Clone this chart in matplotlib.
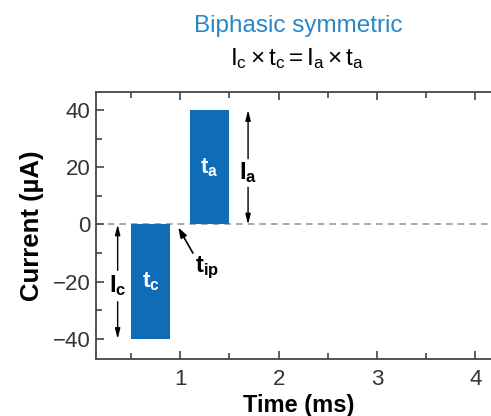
import numpy as np
import matplotlib
matplotlib.use("Agg")
import matplotlib.pyplot as plt
from matplotlib.ticker import MultipleLocator

plt.rcParams['font.family'] = ['Liberation Sans', 'DejaVu Sans']
plt.rcParams['mathtext.fontset'] = 'custom'
plt.rcParams['mathtext.rm'] = 'Liberation Sans'
plt.rcParams['mathtext.bf'] = 'Liberation Sans:bold'
plt.rcParams['mathtext.it'] = 'Liberation Sans'

# pulse phases (cathodic, anodic)
phase_start = [0.5, 1.1]      # ms
phase_width = [0.4, 0.4]      # ms
phase_amp = [-40, 40]         # uA
phase_label = [r'$\mathbf{t_c}$', r'$\mathbf{t_a}$']
x_ticks = [1, 2, 3, 4]
y_ticks = [-40, -20, 0, 20, 40]

BLUE = '#0f6cb6'
AX = '#444444'

fig = plt.figure(figsize=(4.91, 4.16), dpi=100)
ax = fig.add_axes([96/491, 57/416, 406/491, 267/416])

ax.bar(phase_start, phase_amp, width=phase_width, align='edge', color=BLUE, zorder=2)
ax.axhline(0, color='#9a9a9a', lw=1.2, ls=(0, (4, 3)), zorder=1)

for s, w, a, lab in zip(phase_start, phase_width, phase_amp, phase_label):
    ax.text(s + w/2, a/2, lab, color='white', fontsize=16, ha='center', va='center', zorder=3)

# amplitude arrows
arr = dict(arrowstyle='-|>,head_length=0.6,head_width=0.15', color='black', lw=1, shrinkA=0, shrinkB=0)
ax.annotate('', xy=(0.365, 0), xytext=(0.365, -16), arrowprops=arr)
ax.annotate('', xy=(0.365, -40), xytext=(0.365, -27), arrowprops=arr)
ax.text(0.365, -21.5, r'$\mathbf{I_c}$', fontsize=17, ha='center', va='center')
ax.annotate('', xy=(1.69, 40), xytext=(1.69, 23), arrowprops=arr)
ax.annotate('', xy=(1.69, 0), xytext=(1.69, 13), arrowprops=arr)
ax.text(1.69, 18, r'$\mathbf{I_a}$', fontsize=17, ha='center', va='center')

# interphase gap
ax.annotate('', xy=(0.98, -1), xytext=(1.13, -10),
            arrowprops=dict(arrowstyle='-|>,head_length=0.6,head_width=0.2', color='black', lw=1.2,
                            shrinkA=0, shrinkB=0))
ax.text(1.27, -15, r'$\mathbf{t_{ip}}$', fontsize=17, ha='center', va='center')

ax.set_xlim(0.145, 4.27)
ax.set_ylim(-47, 46.3)
ax.set_xticks(x_ticks)
ax.set_yticks(y_ticks)
ax.set_yticklabels([str(v).replace('-', '\u2212') for v in y_ticks])
ax.xaxis.set_minor_locator(MultipleLocator(0.5))
ax.yaxis.set_minor_locator(MultipleLocator(10))
ax.tick_params(which='both', direction='in', top=True, right=True, color=AX, width=1.2,
               labelsize=16, labelcolor='#333333')
ax.tick_params(axis='x', pad=7)
ax.tick_params(axis='y', pad=4)
ax.tick_params(which='major', length=6)
ax.tick_params(which='minor', length=4)
for sp in ax.spines.values():
    sp.set_color(AX)
    sp.set_linewidth(1.3)

ax.set_xlabel('Time (ms)', fontsize=17, fontweight='bold', labelpad=3)
ax.set_ylabel('Current (\u00b5A)', fontsize=18.5, fontweight='bold', labelpad=6)

fig.text(298/491, 1 - 26/416, 'Biphasic symmetric', color='#2a86c6', fontsize=17.5,
         ha='center', va='center')
fig.text(297/491, 1 - 59/416, r'$\mathrm{I_c \times t_c = I_a \times t_a}$', fontsize=17.5,
         ha='center', va='center')

fig.savefig('out.png', dpi=100)
